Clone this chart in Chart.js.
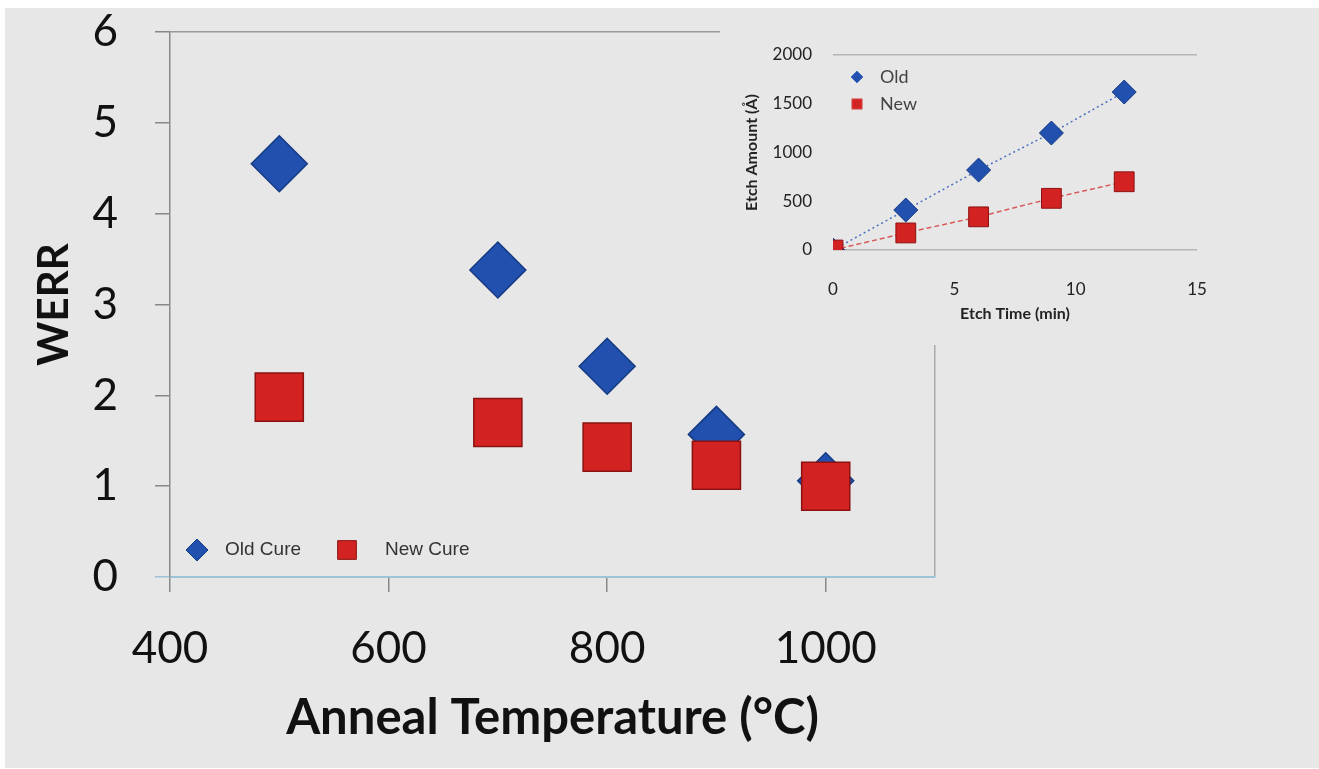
<!DOCTYPE html>
<html lang="en">
<head>
<meta charset="UTF-8">
<title>WERR vs Anneal Temperature</title>
<script src="https://cdn.jsdelivr.net/npm/chart.js"></script>
<style>
  html, body { margin: 0; padding: 0; background: #fff; overflow: hidden; }
  #bg { position: absolute; left: 5px; top: 8px; width: 1314px; height: 760px; background: #e7e7e7; }
  #mainBox { position: absolute; left: 0; top: 0; width: 1319px; height: 769px; }
  #insetBox { position: absolute; left: 720px; top: 10px; width: 540px; height: 335px; background: #e7e7e7; }
</style>
</head>
<body>
<div id="bg"></div>
<div id="mainBox"><canvas id="mainChart" width="1319" height="769"></canvas></div>
<div id="insetBox"><canvas id="insetChart" width="540" height="335"></canvas></div>

<script>
// main chart: WERR vs anneal temperature
const annealTemp = [500, 700, 800, 900, 1000];
const werrOld = [4.55, 3.38, 2.32, 1.57, 1.06];
const werrNew = [1.98, 1.70, 1.43, 1.23, 1.00];
const tempTicks = [400, 600, 800, 1000];

// inset: etch amount vs etch time
const etchTime = [0, 3, 6, 9, 12];
const etchOld = [0, 410, 820, 1200, 1620];
const etchNew = [0, 175, 340, 530, 700];

const toPoints = (xs, ys) => xs.map((x, i) => ({ x: x, y: ys[i] }));

// small legend drawn inside the plot area
const cornerLegend = {
  id: 'cornerLegend',
  afterDatasetsDraw(chart, args, opts) {
    if (!opts.items) return;
    const ctx = chart.ctx, area = chart.chartArea;
    ctx.save();
    ctx.font = opts.font;
    ctx.textBaseline = 'middle';
    chart.data.datasets.forEach((ds, i) => {
      const it = opts.items[i];
      const x = area.left + it.dx;
      const y = opts.fromBottom ? area.bottom - it.dy : area.top + it.dy;
      const r = opts.size;
      ctx.fillStyle = ds.backgroundColor;
      ctx.strokeStyle = ds.borderColor;
      ctx.lineWidth = 1;
      ctx.beginPath();
      if (ds.pointStyle === 'rectRot') {
        ctx.moveTo(x, y - r); ctx.lineTo(x + r, y); ctx.lineTo(x, y + r); ctx.lineTo(x - r, y);
      } else {
        ctx.rect(x - r * 0.85, y - r * 0.85, r * 1.7, r * 1.7);
      }
      ctx.closePath();
      ctx.fill(); ctx.stroke();
      ctx.fillStyle = opts.color;
      ctx.fillText(ds.label, x + it.tx, y);
    });
    ctx.restore();
  }
};

new Chart(document.getElementById('mainChart'), {
  type: 'scatter',
  plugins: [cornerLegend],
  data: {
    datasets: [
      {
        label: 'Old Cure',
        data: toPoints(annealTemp, werrOld),
        pointStyle: 'rectRot',
        pointRadius: 28,
        backgroundColor: '#2150ae',
        borderColor: '#143a82',
        borderWidth: 1.5,
        order: 1
      },
      {
        label: 'New Cure',
        data: toPoints(annealTemp, werrNew),
        pointStyle: 'rect',
        pointRadius: 34,
        backgroundColor: '#d22222',
        borderColor: '#8c1212',
        borderWidth: 1.5,
        order: 0
      }
    ]
  },
  options: {
    responsive: false,
    animation: false,
    layout: { padding: { left: 10, top: 32, right: 384, bottom: 15 }, autoPadding: false },
    plugins: {
      legend: { display: false },
      tooltip: { enabled: false },
      cornerLegend: {
        fromBottom: true,
        size: 11,
        font: '19px "Liberation Sans"',
        color: '#333',
        items: [{ dx: 27, dy: 27, tx: 28 }, { dx: 177, dy: 27, tx: 38 }]
      }
    },
    scales: {
      x: {
        type: 'linear',
        min: 400,
        max: 1100,
        afterBuildTicks: s => { s.ticks = tempTicks.concat([1100]).map(v => ({ value: v })); },
        afterFit: s => { s.height = 177; },
        ticks: {
          callback: v => tempTicks.includes(v) ? String(v) : '',
          font: { family: 'Lato', size: 44 },
          color: '#111',
          padding: 30,
          maxRotation: 0
        },
        grid: {
          color: c => (c.tick && c.tick.value === 1100) ? '#aaaaaa' : 'rgba(0,0,0,0)',
          tickColor: c => (c.tick && c.tick.value === 1100) ? 'rgba(0,0,0,0)' : '#888',
          tickLength: 15,
          lineWidth: 1.5
        },
        border: { color: '#9cc4d6', width: 2 },
        title: {
          display: true,
          text: 'Anneal Temperature (°C)',
          font: { family: 'Lato', size: 49, weight: 'bold' },
          color: '#111',
          padding: { top: 0, bottom: 6 }
        }
      },
      y: {
        min: 0,
        max: 6,
        afterFit: s => { s.width = 160; s.paddingTop = 0; s.paddingBottom = 0; },
        ticks: {
          stepSize: 1,
          font: { family: 'Lato', size: 44 },
          color: '#111',
          padding: 37
        },
        grid: {
          color: c => (c.tick && c.tick.value === 6) ? '#999' : 'rgba(0,0,0,0)',
          tickColor: c => (c.tick && c.tick.value === 0) ? '#9cc4d6' : '#888',
          tickLength: 15,
          lineWidth: 1.5
        },
        border: { color: '#8a8a8a', width: 1.5 },
        title: {
          display: true,
          text: 'WERR',
          font: { family: 'Lato', size: 42, weight: 'bold' },
          color: '#111',
          padding: { top: 19, bottom: 0 }
        }
      }
    }
  }
});

new Chart(document.getElementById('insetChart'), {
  type: 'scatter',
  plugins: [cornerLegend],
  data: {
    datasets: [
      {
        label: 'Old',
        data: toPoints(etchTime, etchOld),
        showLine: true,
        borderDash: [2, 3],
        borderWidth: 1.5,
        borderColor: '#4a70c0',
        backgroundColor: '#2150ae',
        pointStyle: 'rectRot',
        pointRadius: 12,
        pointBorderColor: '#143a82',
        pointBorderWidth: 1,
        order: 1
      },
      {
        label: 'New',
        data: toPoints(etchTime, etchNew),
        showLine: true,
        borderDash: [5, 3],
        borderWidth: 1.5,
        borderColor: '#d85a5a',
        backgroundColor: '#d22222',
        pointStyle: 'rect',
        pointRadius: 14,
        pointBorderColor: '#8c1212',
        pointBorderWidth: 1,
        order: 0
      }
    ]
  },
  options: {
    responsive: false,
    animation: false,
    layout: { padding: { left: 10, top: 45, right: 63, bottom: 5 }, autoPadding: false },
    plugins: {
      legend: { display: false },
      tooltip: { enabled: false },
      cornerLegend: {
        fromBottom: false,
        size: 6,
        font: '18px Lato',
        color: '#444',
        items: [{ dx: 24, dy: 22, tx: 23 }, { dx: 24, dy: 49, tx: 23 }]
      }
    },
    scales: {
      x: {
        type: 'linear',
        min: 0,
        max: 15,
        afterFit: s => { s.height = 90; },
        ticks: { stepSize: 5, font: { family: 'Lato', size: 17 }, color: '#222', padding: 21 },
        grid: { display: false },
        border: { display: false },
        title: {
          display: true,
          text: 'Etch Time (min)',
          font: { family: 'Lato', size: 16, weight: 'bold' },
          color: '#222',
          padding: { top: 0, bottom: 17 }
        }
      },
      y: {
        min: 0,
        max: 2000,
        afterFit: s => { s.width = 103; },
        ticks: {
          stepSize: 500,
          callback: v => String(v),
          font: { family: 'Lato', size: 17 },
          color: '#222',
          padding: 21
        },
        grid: {
          color: c => (c.tick && (c.tick.value === 0 || c.tick.value === 2000)) ? '#b5b5b5' : 'rgba(0,0,0,0)',
          drawTicks: false,
          lineWidth: 1.5
        },
        border: { display: false },
        title: {
          display: true,
          text: 'Etch Amount (Å)',
          font: { family: 'Lato', size: 16, weight: 'bold' },
          color: '#222',
          padding: { top: 12, bottom: 0 }
        }
      }
    }
  }
});
</script>
</body>
</html>
